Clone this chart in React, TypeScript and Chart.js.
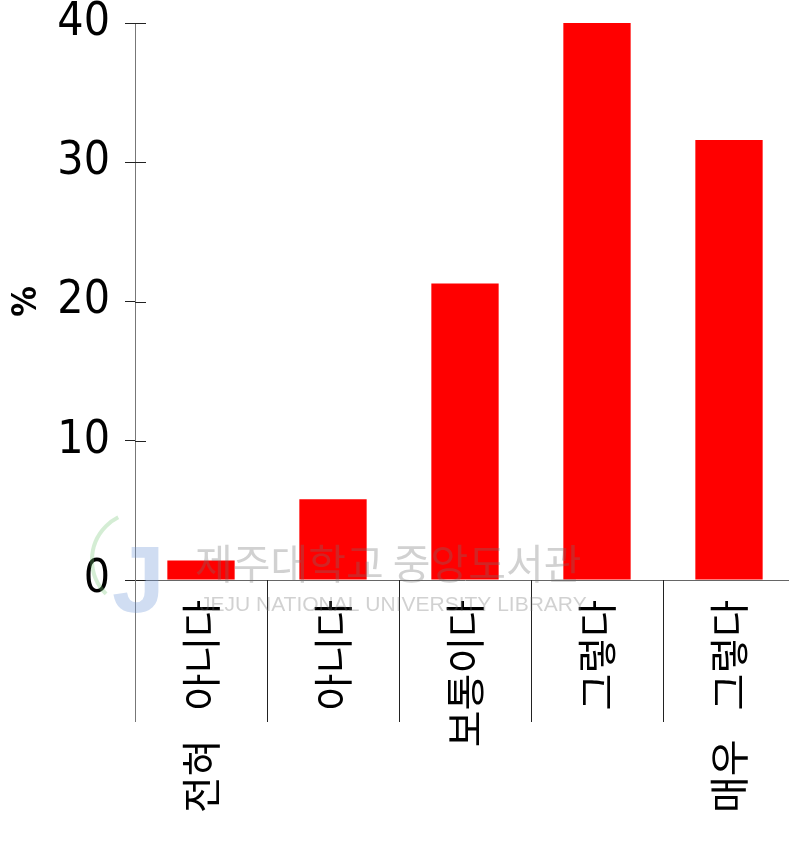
import React, { useEffect, useRef } from "react";
import { Chart, registerables } from "chart.js";

Chart.register(...registerables);

const categories = ["전혀 아니다", "아니다", "보통이다", "그렇다", "매우 그렇다"];
const percentValues = [1.4, 5.8, 21.3, 40.0, 31.6];
const yTickValues = [0, 10, 20, 30, 40];
const yAxisTitle = "%";
const watermarkKo = "제주대학교 중앙도서관";
const watermarkEn = "JEJU NATIONAL UNIVERSITY LIBRARY";

const KR_FONT = "'Noto Sans CJK KR', 'Noto Sans', sans-serif";
const NUM_FONT = "'Liberation Sans Narrow', 'DejaVu Sans Condensed', 'Liberation Sans', sans-serif";

const decorPlugin = {
  id: "decor",
  afterDraw(chart: any) {
    const ctx = chart.ctx;
    const xs = chart.scales.x;
    const ys = chart.scales.y;
    const area = chart.chartArea;
    ctx.save();
    // inward part of y ticks
    ctx.strokeStyle = "#222";
    ctx.lineWidth = 1;
    yTickValues.forEach((v) => {
      const y = Math.round(ys.getPixelForValue(v)) + 0.5;
      ctx.beginPath();
      ctx.moveTo(area.left, y);
      ctx.lineTo(area.left + 11, y);
      ctx.stroke();
    });
    // category separators below the axis
    for (let i = 0; i <= categories.length; i++) {
      const x = Math.round(xs.getPixelForValue(i - 0.5)) + 0.5;
      ctx.strokeStyle = i === 0 ? "#777" : "#222";
      ctx.beginPath();
      ctx.moveTo(x, xs.top);
      ctx.lineTo(x, xs.top + 142);
      ctx.stroke();
    }
    // watermark
    ctx.globalAlpha = 0.32;
    ctx.fillStyle = "rgb(110,150,215)";
    ctx.font = "bold 95px 'Liberation Sans', sans-serif";
    ctx.textBaseline = "alphabetic";
    ctx.textAlign = "left";
    ctx.fillText("J", 112, 612);
    ctx.strokeStyle = "rgb(120,200,120)";
    ctx.lineWidth = 4;
    ctx.beginPath();
    ctx.arc(140, 560, 48, Math.PI * 0.75, Math.PI * 1.35);
    ctx.stroke();
    ctx.fillStyle = "#707070";
    ctx.font = "41px " + KR_FONT;
    ctx.fillText(watermarkKo, 195, 579);
    ctx.font = "21px 'Liberation Sans', sans-serif";
    ctx.fillText(watermarkEn, 200, 611);
    ctx.restore();
  },
};

export default function App() {
  const ref = useRef<HTMLCanvasElement>(null);
  useEffect(() => {
    if (!ref.current) return;
    const chart = new Chart(ref.current, {
      type: "bar",
      data: {
        labels: categories,
        datasets: [
          {
            data: percentValues,
            backgroundColor: "#ff0000",
            borderWidth: 0,
            barPercentage: 0.51,
            categoryPercentage: 1.0,
          },
        ],
      },
      options: {
        animation: false,
        responsive: false,
        devicePixelRatio: 1,
        layout: { padding: { top: 23, right: 0, left: 0, bottom: 0 } },
        plugins: { legend: { display: false }, tooltip: { enabled: false } },
        scales: {
          x: {
            type: "category",
            grid: { display: false },
            border: { display: true, color: "#666", width: 1 },
            ticks: {
              autoSkip: false,
              maxRotation: 90,
              minRotation: 90,
              padding: 12,
              color: "#000",
              font: { family: KR_FONT, size: 40, lineHeight: 1 },
              callback: (_v: any, i: number) => categories[i].replace(" ", "\u2002 "),
            },
            afterFit: (s: any) => {
              s.height = 261;
              s.paddingLeft = 0;
              s.paddingRight = 0;
            },
          },
          y: {
            min: 0,
            max: 40,
            afterBuildTicks: (s: any) => {
              s.ticks = yTickValues.map((v) => ({ value: v }));
            },
            grid: { drawOnChartArea: false, drawTicks: true, tickLength: 10, color: "#222" },
            border: { display: true, color: "#777", width: 1 },
            ticks: {
              padding: 15,
              color: "#000",
              font: { family: NUM_FONT, size: 46, lineHeight: 1 },
            },
            title: {
              display: true,
              text: yAxisTitle,
              color: "#000",
              font: { family: "'DejaVu Sans Condensed', 'DejaVu Sans', sans-serif", size: 34, weight: "bold" },
              padding: { top: 7, bottom: 0 },
            },
            afterFit: (s: any) => {
              s.width = 135;
              s.paddingTop = 0;
              s.paddingBottom = 0;
            },
          },
        },
      },
      plugins: [decorPlugin],
    });
    return () => chart.destroy();
  }, []);
  return (
    <div
      style={{
        position: "fixed",
        left: 0,
        top: 0,
        width: 789,
        height: 841,
        overflow: "hidden",
        background: "#fff",
      }}
    >
      <canvas ref={ref} width={795} height={841} style={{ display: "block" }} />
    </div>
  );
}
